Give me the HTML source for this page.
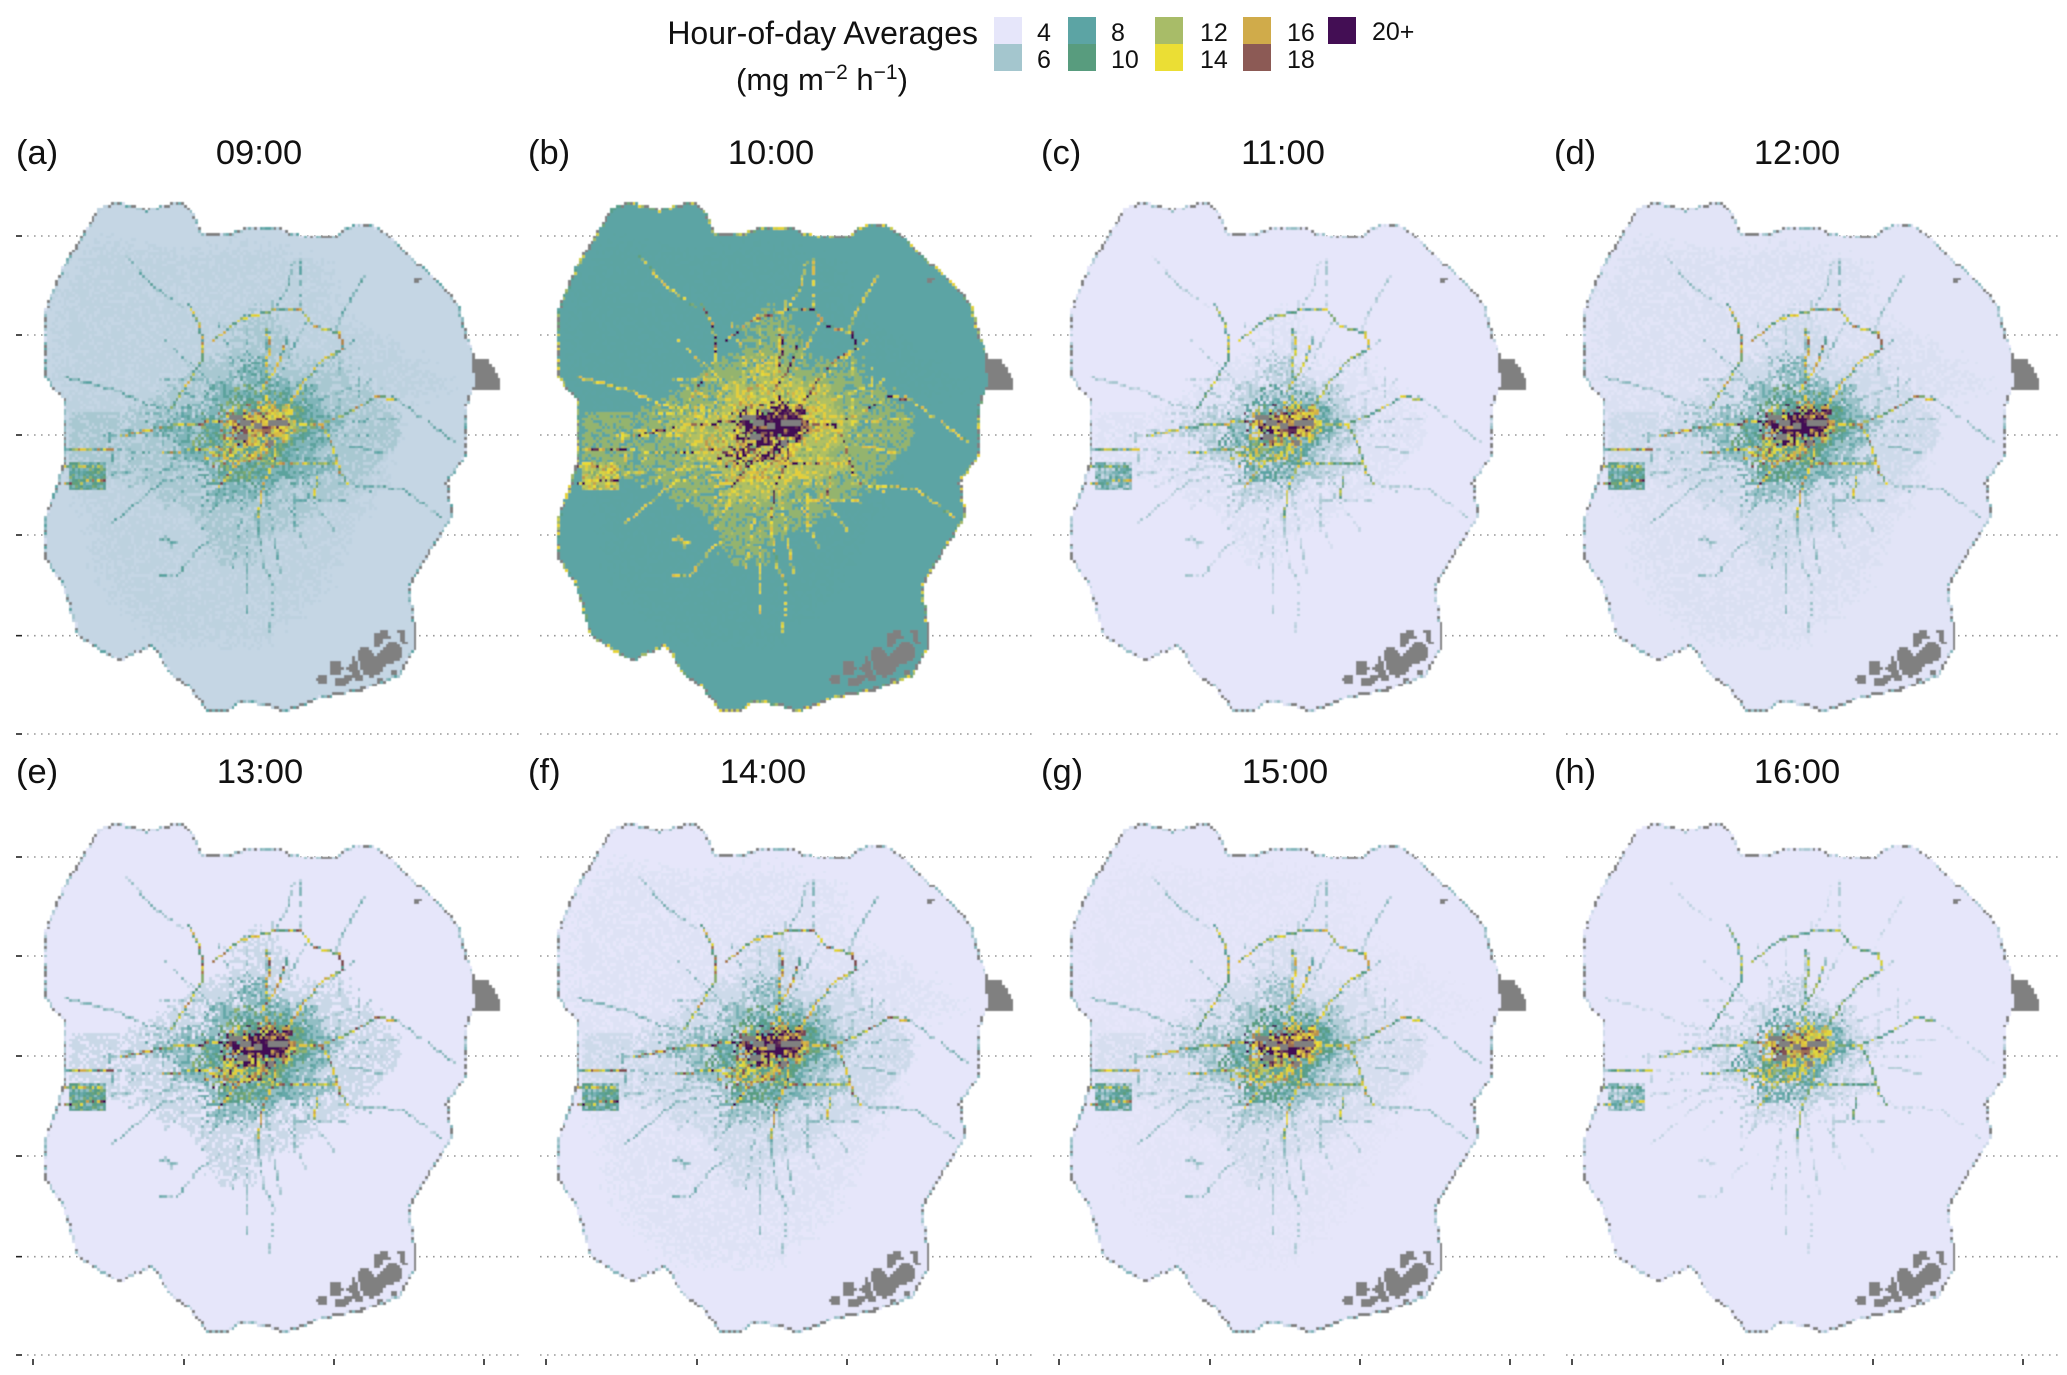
<!DOCTYPE html>
<html lang="en">
<head>
<meta charset="utf-8">
<title>Hour-of-day Averages</title>
<style>
html,body{margin:0;padding:0;background:#fff;}
svg{display:block;font-family:"Liberation Sans",Arial,sans-serif;fill:#111;}
</style>
</head>
<body>
<svg id="chart" xmlns="http://www.w3.org/2000/svg" width="2067" height="1375" viewBox="0 0 2067 1375">
  <defs>
    <filter id="soft" x="-2%" y="-2%" width="104%" height="104%"><feGaussianBlur stdDeviation="0.45"/></filter>
  </defs>
  <g id="grid-layer"></g>
  <g id="map-layer"></g>

  <g>
    <text x="978" y="44" text-anchor="end" font-size="32">Hour-of-day Averages</text>
    <text x="822" y="90" text-anchor="middle" font-size="31">(mg m<tspan font-size="21" dy="-11">−2</tspan><tspan dy="11"> h</tspan><tspan font-size="21" dy="-11">−1</tspan><tspan dy="11">)</tspan></text>
    <rect x="994" y="17" width="28" height="27" fill="#E6E6FA"/>
    <rect x="994" y="44" width="28" height="27" fill="#A4C6CE"/>
    <rect x="1068" y="17" width="28" height="27" fill="#5CA4A4"/>
    <rect x="1068" y="44" width="28" height="27" fill="#589C7E"/>
    <rect x="1155" y="17" width="28" height="27" fill="#A8BC68"/>
    <rect x="1155" y="44" width="28" height="27" fill="#EBDE34"/>
    <rect x="1243" y="17" width="28" height="27" fill="#D0AB4A"/>
    <rect x="1243" y="44" width="28" height="27" fill="#8C5A55"/>
    <rect x="1328" y="17" width="28" height="27" fill="#430E54"/>
    <g font-size="25">
      <text x="1037" y="41">4</text>
      <text x="1037" y="68">6</text>
      <text x="1111" y="41">8</text>
      <text x="1111" y="68">10</text>
      <text x="1200" y="41">12</text>
      <text x="1200" y="68">14</text>
      <text x="1287" y="41">16</text>
      <text x="1287" y="68">18</text>
      <text x="1372" y="40">20+</text>
    </g>
  </g>

  <g font-size="34.5">
    <text x="16" y="164">(a)</text>
    <text x="259" y="164" text-anchor="middle">09:00</text>
    <text x="528" y="164">(b)</text>
    <text x="771" y="164" text-anchor="middle">10:00</text>
    <text x="1041" y="164">(c)</text>
    <text x="1283" y="164" text-anchor="middle">11:00</text>
    <text x="1554" y="164">(d)</text>
    <text x="1797" y="164" text-anchor="middle">12:00</text>
    <text x="16" y="783">(e)</text>
    <text x="260" y="783" text-anchor="middle">13:00</text>
    <text x="528" y="783">(f)</text>
    <text x="763" y="783" text-anchor="middle">14:00</text>
    <text x="1041" y="783">(g)</text>
    <text x="1285" y="783" text-anchor="middle">15:00</text>
    <text x="1554" y="783">(h)</text>
    <text x="1797" y="783" text-anchor="middle">16:00</text>
  </g>
</svg>

<script>
// ---- colour scale (mg m-2 h-1) ----
const scaleValues = [4, 6, 8, 10, 12, 14, 16, 18, 20];
const scaleColours = ['#E6E6FA', '#A4C6CE', '#5CA4A4', '#589C7E', '#A8BC68', '#EBDE34', '#D0AB4A', '#8C5A55', '#430E54'];
const noDataColour = '#808080';

// ---- per-panel levels, panels a..h (09:00..16:00) ----
const backgroundLevels = [5.05, 8.0, 4.0, 4.1, 4.0, 4.05, 4.0, 4.0];
const suburbLevels     = [5.3, 8.15, 4.05, 4.4, 4.05, 4.25, 4.15, 4.0];
const sparseLevels     = [5.9, 11.5, 4.3, 4.8, 4.9, 4.8, 4.5, 4.05];
const denseLevels      = [7.0, 12.2, 5.0, 6.2, 6.5, 6.0, 5.5, 4.5];
const innerLevels      = [9.0, 13.0, 7.0, 8.5, 9.0, 8.5, 8.0, 6.5];
const coreLevels       = [12.5, 18, 11, 13, 14, 13, 12, 11];
const heartLevels      = [15.5, 22, 17, 21, 21, 20, 18, 15.5];
const majorRoadLevels  = [12, 15.5, 10.5, 12.5, 13, 13, 11.5, 9.5];
const outerRoadLevels  = [6.8, 12.4, 5.0, 5.6, 6.0, 6.0, 5.5, 4.3];
const minorRoadLevels  = [6.2, 12.0, 4.6, 5.4, 5.4, 5.4, 5.0, 4.4];
const boundaryLevels   = [7.0, 12.5, 5.5, 6.0, 6.0, 6.0, 6.0, 5.0];

// ---- map geometry in map units (easting, northing) ----
const cityBoundary = [[-65,-218],[-15,-232],[30,-229],[80,-212],[140,-229],[190,-232],[225,-194],[245,-138],[330,-140],[380,-158],[475,-160],[520,-138],[650,-134],[680,-160],[755,-170],[810,-134],[870,-75],[940,-9],[1020,74],[1040,164],[1065,229],[1070,313],[1045,361],[1040,527],[985,605],[1000,712],[985,730],[920,837],[875,909],[880,1112],[840,1189],[730,1231],[600,1255],[570,1272],[530,1284],[490,1296],[440,1278],[360,1267],[320,1296],[260,1296],[215,1231],[150,1183],[100,1100],[40,1123],[0,1147],[-70,1106],[-130,1064],[-170,921],[-225,837],[-225,712],[-190,611],[-165,527],[-170,361],[-225,295],[-225,86],[-170,-45],[-95,-164]];
const suburbZone = [[-77,-107],[193,-66],[433,-97],[643,-25],[643,107],[873,240],[993,341],[793,382],[793,647],[693,749],[593,953],[413,1106],[143,1106],[-27,953],[-87,749],[-147,545],[-187,341],[-177,36]];
const westArmZone = [[-150,400],[0,400],[0,600],[-150,590]];
const airportZone = [[-155,551],[-40,551],[-40,635],[-155,635]];

// urban density class per 30-unit block, starting at easting 0, northing 0
// 0 none, 1 sparse, 2 dense, 3 inner, 4 core, 5 heart
const densityRows = [
  '000000000000000000000000000000',
  '000000000000000000000000000000',
  '000000000000000000000000000000',
  '000000000000011000000000000000',
  '000000000000111100000000000000',
  '000000000001111110000000000000',
  '000000000001111110000000000000',
  '000000000011111111000000000000',
  '000000001111222111111110000000',
  '000000011111222111111110000000',
  '000001111222222222211111100000',
  '000011111222333332221111110000',
  '000111112223334433321111111000',
  '011111222234455553322211111100',
  '111222223355555554332211111100',
  '111122223334555543322111111100',
  '111111223344444433222111111100',
  '011112222444444332221111111000',
  '011111112233333332222211110000',
  '111111111233333222221111100000',
  '000111111222222211111111000000',
  '000011111222222111111110000000',
  '000000111111111111110000000000',
  '000000011111111111100000000000',
  '000000001111111110000000000000',
  '000000000111111000000000000000',
  '000000000111110000000000000000',
  '000000000011110000000000000000'
];

const majorRoads = [
  [[205,70],[235,130],[250,190],[245,240],[190,330],[155,380]],
  [[281,185],[361,113],[470,90],[541,92],[581,138],[661,154],[665,205],[611,237],[551,309],[501,392]],
  [[830,355],[770,352],[720,385],[660,410],[600,430],[500,430]],
  [[605,430],[640,510],[660,580],[680,610]],
  [[0,470],[120,440],[200,430],[300,425],[350,420]],
  [[130,520],[240,510],[300,500],[380,480]],
  [[470,550],[580,555],[650,555]],
  [[590,590],[585,650]],
  [[415,720],[425,640],[440,590],[465,530]],
  [[500,170],[490,210],[470,260],[420,330]],
  [[440,150],[450,190],[440,260],[440,310]],
  [[300,620],[350,560],[400,500]],
  [[-155,510],[-25,510]],
  [[-164,557],[-54,557]],
  [[-164,606],[-49,604]],
  [[985,605],[1000,712]],
  [[-190,611],[-165,527]]
];
const outerRoads = [
  [[21,-74],[101,20],[191,82]],
  [[521,-63],[501,30],[461,92]],
  [[731,-11],[661,113],[651,154]],
  [[-169,294],[-9,330],[91,376],[141,381],[191,412],[261,443]],
  [[821,350],[1001,485]],
  [[-59,511],[121,521],[251,511]],
  [[661,614],[851,630],[961,712]],
  [[-19,728],[131,604],[261,588]],
  [[171,888],[241,805],[301,764]],
  [[461,930],[431,857],[406,702]],
  [[-29,443],[-19,588]],
  [[-19,464],[191,454]],
  [[140,760],[150,800]],
  [[120,780],[170,790]],
  [[171,888],[120,890]]
];
const minorRoads = [
  [[410,430],[300,130]],[[410,430],[370,100]],[[410,430],[460,60]],[[410,430],[560,120]],
  [[410,430],[700,180]],[[410,430],[760,300]],[[410,430],[840,420]],[[410,430],[780,520]],
  [[410,430],[760,640]],[[410,430],[650,760]],[[410,430],[560,800]],[[410,430],[480,880]],
  [[410,430],[340,860]],[[410,430],[240,760]],[[410,430],[130,690]],[[410,430],[30,620]],
  [[410,430],[20,540]],[[410,430],[0,450]],[[410,430],[20,350]],[[410,430],[100,300]],[[410,430],[140,180]],
  [[60,400],[300,400]],[[-100,470],[200,470]],[[-20,575],[240,560]],[[660,250],[660,430]],
  [[720,210],[720,350]],[[540,-60],[540,110]],[[110,300],[260,300]],[[480,660],[700,660]],
  [[330,200],[330,380]],[[600,470],[780,470]],[[250,620],[250,720]],[[520,600],[520,760]],
  [[380,750],[380,1000]],[[460,940],[450,1080]]
];

// cells with no data, as outlines and as small boxes
const noDataPatches = [
  [[715,1110],[735,1100],[755,1115],[765,1130],[790,1105],[810,1085],[840,1090],[850,1115],[840,1140],[800,1155],[780,1180],[755,1195],[730,1180],[715,1140]],
  [[760,1065],[780,1055],[805,1055],[815,1075],[795,1075],[780,1100],[762,1108]],
  [[832,1052],[858,1052],[860,1085],[868,1090],[868,1098],[848,1095],[840,1075]],
  [[625,1147],[660,1147],[670,1165],[660,1182],[625,1182]],
  [[680,1160],[695,1155],[700,1125],[705,1125],[710,1155],[730,1200],[705,1205],[695,1175],[680,1170]],
  [[645,1195],[665,1195],[670,1185],[690,1185],[700,1200],[680,1215],[645,1218]],
  [[590,1198],[600,1185],[615,1185],[625,1215],[610,1210],[590,1205]],
  [[878,1028],[886,1028],[886,1110],[878,1110]],
  [[725,1220],[740,1220],[740,1230],[725,1230]],
  [[770,1195],[785,1195],[785,1205],[770,1205]],
  [[815,1172],[832,1172],[832,1182],[815,1182]],
  [[1055,235],[1100,235],[1120,265],[1138,295],[1138,325],[1065,325],[1060,265]],
  [[878,-3],[910,-8],[895,10],[885,10]]
];
const centreGapBoxes = [
  [330,405,365,420],[360,420,395,435],[390,385,410,400],[400,430,425,450],
  [445,420,500,440],[355,465,385,478],[445,480,465,500]
];

// hand-estimated cell-to-cell speckle of the emission surface (0..9)
const speckleRows = [
  '36180472951630827419563028174','70425913862047193685024719368','25813670491826350742196058341',
  '91364028573194620853741260495','48026195370582914637028514936','13759840261937058246319750842',
  '60294718536402871953064281759','87531096428175360924187053642','24960357182940635178290463715',
  '53817264095318247605931748026','09426183750264918357042681593','71358920647135802946175309268',
  '46092571384629071538460295713','32785016949273510684937162058','95140638271058436921750384629',
  '18673249506183729045186273950','60429185376042815973604921837','27951364082795130648271593064',
  '84306917254830692175438069172','51728043690517284306951728403','39064572183906415728390641572',
  '72815903647281950364728195036','05493168720549316872405931687'
];

// axes: tick positions in map units; panel placement
const eastingTicks = [-261, 192, 642, 1092];
const northingTicks = [-132, 165, 465, 765, 1067, 1362];
const panelColumnOffsets = [0, 513, 1026, 1539];
const panelRowOffsets = [0, 621];

const eMin = -228, nMin = -234, cellUnits = 8.4, densityBlock = 30;
const gridCols = 164, gridRows = 184;

function xPixel(e) { return 120 + e / 3; }
function yPixel(n) { return 280 + n / 3; }
function colOf(e) { return Math.floor((e - eMin) / cellUnits); }
function rowOf(n) { return Math.floor((n - nMin) / cellUnits); }
function cellE(c) { return eMin + (c + 0.5) * cellUnits; }
function cellN(r) { return nMin + (r + 0.5) * cellUnits; }

function inside(poly, e, n) {
  let hit = false;
  for (let i = 0, j = poly.length - 1; i < poly.length; j = i++) {
    const a = poly[i], b = poly[j];
    if ((a[1] > n) !== (b[1] > n) && e < (b[0] - a[0]) * (n - a[1]) / (b[1] - a[1]) + a[0]) hit = !hit;
  }
  return hit;
}
function speckleAt(c, r) {
  const R = speckleRows.length, C = speckleRows[0].length;
  return +speckleRows[r % R][(c + 7 * Math.floor(r / R)) % C];
}
function speckle(c, r) { return (speckleAt(c, r) + speckleAt(r * 3 + 5, c * 2 + 9)) % 10; }
function speckle2(c, r) { return (speckleAt(c + 11, r + 4) + speckleAt(r * 2 + 1, c * 3 + 2)) % 10; }
function densityAt(e, n) {
  const i = Math.floor(e / densityBlock), j = Math.floor(n / densityBlock);
  if (j < 0 || j >= densityRows.length || i < 0 || i >= densityRows[0].length) return 0;
  return +densityRows[j][i];
}
function colourFor(v) {
  if (v >= scaleValues[scaleValues.length - 1]) return scaleColours[scaleColours.length - 1];
  if (v <= scaleValues[0]) return scaleColours[0];
  let i = 0;
  while (v > scaleValues[i + 1]) i++;
  const t = (v - scaleValues[i]) / (scaleValues[i + 1] - scaleValues[i]);
  const a = scaleColours[i], b = scaleColours[i + 1];
  let out = '#';
  for (let k = 1; k < 7; k += 2) {
    const x = parseInt(a.substr(k, 2), 16), y = parseInt(b.substr(k, 2), 16);
    out += Math.round(x + (y - x) * t).toString(16).padStart(2, '0');
  }
  return out;
}

// ---- precomputed spatial layers ----
const zoneGrid = [], roadGrid = [], maskGrid = [], naGrid = [];
for (let r = 0; r < gridRows; r++) {
  zoneGrid.push(new Uint8Array(gridCols));
  roadGrid.push(new Uint8Array(gridCols));
  maskGrid.push(new Uint8Array(gridCols));
  naGrid.push(new Uint8Array(gridCols));
}
for (let r = 0; r < gridRows; r++) {
  for (let c = 0; c < gridCols; c++) {
    const e = cellE(c), n = cellN(r);
    const g1 = speckle(c, r), g2 = speckle2(c, r);
    if (inside(cityBoundary, e, n)) maskGrid[r][c] = 1;
    let z = 0;
    if (inside(suburbZone, e + (g1 - 4.5) * 9, n + (g2 - 4.5) * 9) && g2 >= 3) z = 1;
    if (inside(westArmZone, e, n)) z = 2;
    const d = densityAt(e + (g1 - 4.5) * 4.5, n + (g2 - 4.5) * 4.5);
    if (d > 0) z = d + 1;
    if (inside(airportZone, e, n)) z = 4;
    zoneGrid[r][c] = z;
    for (const p of noDataPatches) if (inside(p, e, n)) { naGrid[r][c] = 1; maskGrid[r][c] = 1; }
    for (const b of centreGapBoxes) if (e >= b[0] && e < b[2] && n >= b[1] && n < b[3]) naGrid[r][c] = 1;
  }
}
function plotRoads(list, cls) {
  for (const road of list) {
    for (let i = 0; i + 1 < road.length; i++) {
      const c0 = colOf(road[i][0]), r0 = rowOf(road[i][1]);
      const c1 = colOf(road[i + 1][0]), r1 = rowOf(road[i + 1][1]);
      const steps = Math.max(Math.abs(c1 - c0), Math.abs(r1 - r0), 1);
      for (let s = 0; s <= steps; s++) {
        const c = Math.round(c0 + (c1 - c0) * s / steps), r = Math.round(r0 + (r1 - r0) * s / steps);
        if (r >= 0 && r < gridRows && c >= 0 && c < gridCols && roadGrid[r][c] < cls) roadGrid[r][c] = cls;
      }
    }
  }
}
plotRoads(minorRoads, 1);
plotRoads(outerRoads, 2);
plotRoads(majorRoads, 3);

function isEdge(c, r) {
  const m = (cc, rr) => rr >= 0 && rr < gridRows && cc >= 0 && cc < gridCols && maskGrid[rr][cc];
  return !(m(c - 1, r) && m(c + 1, r) && m(c, r - 1) && m(c, r + 1));
}

function cellValue(p, c, r) {
  const g = speckle(c, r), z = zoneGrid[r][c];
  let v;
  if (z === 0) v = backgroundLevels[p];
  else if (z === 1) v = suburbLevels[p];
  else if (z === 2) v = g <= 2 ? suburbLevels[p] : sparseLevels[p];
  else if (z === 3) v = g <= 1 ? sparseLevels[p] : denseLevels[p] * (g >= 8 ? 1.2 : 1);
  else if (z === 4) v = g <= 1 ? denseLevels[p] : innerLevels[p] * (1 + (g - 4.5) * 0.06);
  else if (z === 5) v = coreLevels[p] * (1 + (g - 4.5) * 0.09);
  else v = heartLevels[p] * (1 + (g - 4.5) * 0.05);
  const cls = roadGrid[r][c];
  if (cls === 3) {
    const boost = z >= 5 ? 1.25 : z === 4 ? 1.1 : 1;
    v = Math.max(v, majorRoadLevels[p] * boost * (1 + (g - 4.5) * 0.09));
  } else if (cls === 2 && g > 0) {
    v = Math.max(v, outerRoadLevels[p] * (1 + (g - 4.5) * 0.05));
  } else if (cls === 1 && g > 3) {
    v = Math.max(v, minorRoadLevels[p] * (1 + (g - 4.5) * 0.06));
  }
  return v;
}

// ---- drawing ----
const SVGNS = 'http://www.w3.org/2000/svg';
const gridLayer = document.getElementById('grid-layer');
const mapLayer = document.getElementById('map-layer');

panelRowOffsets.forEach(function (dy) {
  northingTicks.forEach(function (nt) {
    const y = yPixel(nt) + dy;
    const tick = document.createElementNS(SVGNS, 'line');
    
    
    tick.setAttribute('x1', 16); tick.setAttribute('x2', 22);
    tick.setAttribute('y1', y); tick.setAttribute('y2', y);
    tick.setAttribute('stroke', '#222'); tick.setAttribute('stroke-width', 1.6);
    gridLayer.appendChild(tick);
    panelColumnOffsets.forEach(function (dx) {
      const line = document.createElementNS(SVGNS, 'line');
      
      
      line.setAttribute('x1', 27 + dx); line.setAttribute('x2', 521 + dx);
      line.setAttribute('y1', y); line.setAttribute('y2', y);
      line.setAttribute('stroke', '#999'); line.setAttribute('stroke-width', 1.6);
      line.setAttribute('stroke-dasharray', '1.6 5.4');
      gridLayer.appendChild(line);
    });
  });
});
panelColumnOffsets.forEach(function (dx) {
  eastingTicks.forEach(function (et) {
    const x = xPixel(et) + dx;
    const tick = document.createElementNS(SVGNS, 'line');
    
    
    tick.setAttribute('x1', x); tick.setAttribute('x2', x);
    tick.setAttribute('y1', yPixel(northingTicks[5]) + panelRowOffsets[1] + 4);
    tick.setAttribute('y2', yPixel(northingTicks[5]) + panelRowOffsets[1] + 10);
    tick.setAttribute('stroke', '#222'); tick.setAttribute('stroke-width', 1.6);
    gridLayer.appendChild(tick);
  });
});

const cellPixels = cellUnits / 3;
for (let p = 0; p < 8; p++) {
  const ox = panelColumnOffsets[p % 4] + xPixel(eMin);
  const oy = panelRowOffsets[p < 4 ? 0 : 1] + yPixel(nMin);
  const paths = {};
  for (let r = 0; r < gridRows; r++) {
    let runStart = -1, runKey = null;
    for (let c = 0; c <= gridCols; c++) {
      let key = null;
      if (c < gridCols && maskGrid[r][c]) {
        const g = speckle(c, r);
        if (naGrid[r][c]) key = noDataColour;
        else if (isEdge(c, r)) {
          key = g >= 6 ? noDataColour : colourFor(Math.round(boundaryLevels[p] * (1 + (g - 3.5) * 0.1) * 8) / 8);
        } else key = colourFor(Math.round(cellValue(p, c, r) * 8) / 8);
      }
      if (key !== runKey) {
        if (runKey !== null) {
          const x0 = Math.round(ox + runStart * cellPixels), x1 = Math.round(ox + c * cellPixels);
          const y0 = Math.round(oy + r * cellPixels), y1 = Math.round(oy + (r + 1) * cellPixels);
          paths[runKey] = (paths[runKey] || '') + 'M' + x0 + ' ' + y0 + 'H' + x1 + 'V' + y1 + 'H' + x0 + 'Z';
        }
        runStart = c; runKey = key;
      }
    }
  }
  const group = document.createElementNS(SVGNS, 'g');
  
  
  group.setAttribute('filter', 'url(#soft)');
  Object.keys(paths).forEach(function (colour) {
    const cells = document.createElementNS(SVGNS, 'path');
    
    
    cells.setAttribute('d', paths[colour]);
    cells.setAttribute('fill', colour);
    cells.setAttribute('shape-rendering', 'crispEdges');
    group.appendChild(cells);
  });
  mapLayer.appendChild(group);
}
</script>
</body>
</html>
